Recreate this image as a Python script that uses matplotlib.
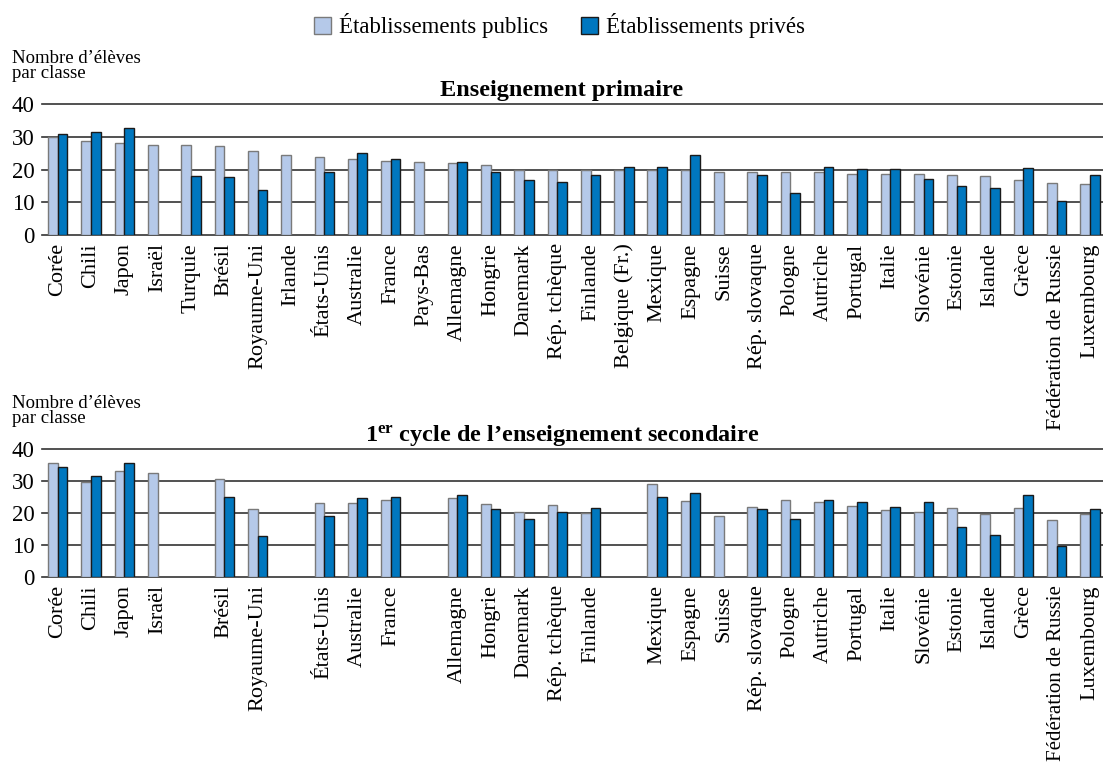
import numpy as np
import matplotlib
matplotlib.use("Agg")
import matplotlib.pyplot as plt
from matplotlib.patches import Patch

plt.rcParams['font.family'] = ['Liberation Serif', 'DejaVu Serif']
plt.rcParams['mathtext.fontset'] = 'custom'
plt.rcParams['mathtext.rm'] = 'Liberation Serif'
plt.rcParams['mathtext.bf'] = 'Liberation Serif:bold'

nan = np.nan

countries = ['Corée', 'Chili', 'Japon', 'Israël', 'Turquie', 'Brésil', 'Royaume-Uni',
             'Irlande', 'États-Unis', 'Australie', 'France', 'Pays-Bas', 'Allemagne',
             'Hongrie', 'Danemark', 'Rép. tchèque', 'Finlande', 'Belgique (Fr.)',
             'Mexique', 'Espagne', 'Suisse', 'Rép. slovaque', 'Pologne', 'Autriche',
             'Portugal', 'Italie', 'Slovénie', 'Estonie', 'Islande', 'Grèce',
             'Fédération de Russie', 'Luxembourg']

prim_public = [30.0, 28.8, 28.0, 27.6, 27.4, 27.1, 25.7, 24.3, 23.7, 23.2, 22.7, 22.4,
               21.9, 21.5, 20.0, 20.0, 19.7, 19.7, 19.7, 19.7, 19.3, 19.3, 19.2, 19.2,
               18.6, 18.6, 18.5, 18.4, 18.0, 16.7, 15.8, 15.7]
prim_private = [30.8, 31.6, 32.8, nan, 18.0, 17.8, 13.6, nan, 19.3, 25.0, 23.1, nan,
                22.4, 19.3, 16.7, 16.3, 18.4, 20.9, 20.7, 24.3, nan, 18.3, 12.7, 20.7,
                20.1, 20.1, 17.0, 15.1, 14.4, 20.4, 10.4, 18.2]

sec_public = [35.5, 29.6, 33.1, 32.5, nan, 30.5, 21.3, nan, 23.1, 23.0, 24.0, nan,
              24.6, 22.8, 20.4, 22.5, 20.1, nan, 29.0, 23.6, 18.9, 22.0, 24.0, 23.3,
              22.1, 20.9, 20.4, 21.6, 19.7, 21.7, 17.9, 19.6]
sec_private = [34.4, 31.5, 35.5, nan, nan, 25.0, 12.9, nan, 19.1, 24.6, 25.1, nan,
               25.5, 21.3, 18.1, 20.3, 21.7, nan, 25.0, 26.1, nan, 21.1, 18.1, 24.0,
               23.3, 21.9, 23.4, 15.6, 13.1, 25.6, 9.8, 21.2]

sec_labels = [c if not np.isnan(v) else '' for c, v in zip(countries, sec_public)]

legend_labels = ['Établissements publics', 'Établissements privés']
ylabel_text = 'Nombre d’élèves\npar classe'
title_top = 'Enseignement primaire'
title_bot = r'$\mathbf{1^{er}}$ cycle de l’enseignement secondaire'
yticks = [0, 10, 20, 30, 40]

c_pub = '#b5c9e9'
c_pub_edge = '#7a7a7a'
c_priv = '#0077bf'
c_priv_edge = '#1a1a1a'
grid_c = '#333333'

fig = plt.figure(figsize=(11.03, 7.62), dpi=100)

def draw(ax, pub, priv, labels, title, ytxt_y):
    x = np.arange(len(countries))
    w = 0.29
    ax.bar(x - w / 2, pub, width=w, color=c_pub, edgecolor=c_pub_edge, linewidth=1.0, zorder=3)
    ax.bar(x + w / 2, priv, width=w, color=c_priv, edgecolor=c_priv_edge, linewidth=1.0, zorder=3)
    ax.set_ylim(0, 40)
    ax.set_xlim(-0.48, 31.39)
    ax.set_yticks(yticks)
    ax.set_yticklabels([str(t) for t in yticks], fontsize=16.5)
    ax.set_xticks(x)
    ax.set_xticklabels(labels, rotation=90, fontsize=16, va='top', ha='center')
    ax.tick_params(axis='both', length=0)
    ax.tick_params(axis='y', pad=5)
    ax.tick_params(axis='x', pad=6)
    for t in yticks:
        ax.axhline(t, color=grid_c, linewidth=1.2, zorder=1, clip_on=False)
    for s in ax.spines.values():
        s.set_visible(False)
    ax.set_title(title, fontsize=17.5, fontweight='bold', pad=6, x=0.49)
    fig.text(0.011, ytxt_y, ylabel_text, fontsize=13.5, va='top', ha='left', linespacing=0.82)

ax1 = fig.add_axes([0.0379, 0.6916, 0.9621, 0.1719])
draw(ax1, prim_public, prim_private, countries, title_top, 0.934)

ax2 = fig.add_axes([0.0379, 0.2428, 0.9621, 0.1680])
draw(ax2, sec_public, sec_private, sec_labels, title_bot, 0.481)
for lbl in ax2.get_xticklabels():
    if lbl.get_text() == 'Fédération de Russie':
        lbl.set_fontsize(15)

handles = [Patch(facecolor=c_pub, edgecolor=c_pub_edge, linewidth=1.0),
           Patch(facecolor=c_priv, edgecolor=c_priv_edge, linewidth=1.0)]
fig.legend(handles, legend_labels, loc='center', bbox_to_anchor=(0.507, 0.966), ncol=2,
           frameon=False, fontsize=16.5, handlelength=0.74, handleheight=0.74,
           handletextpad=0.35, columnspacing=1.45, borderaxespad=0)

fig.savefig('out.png', dpi=100)
